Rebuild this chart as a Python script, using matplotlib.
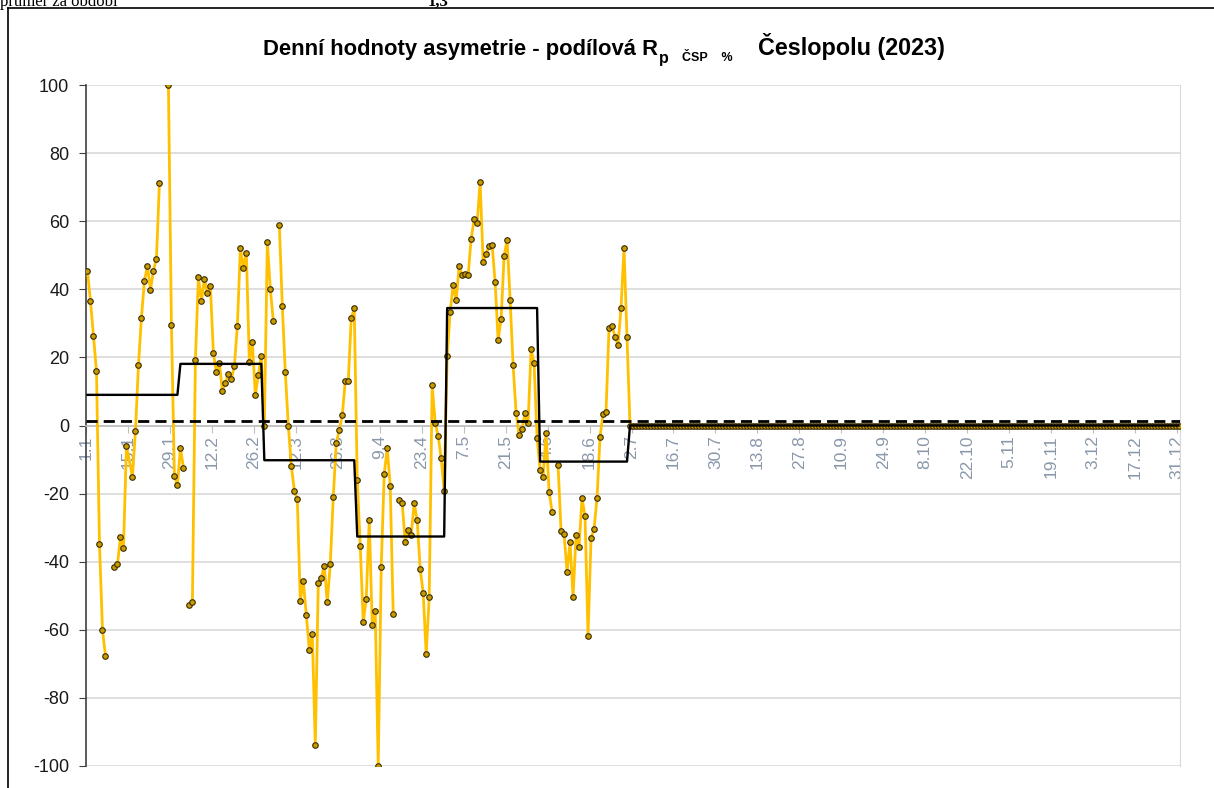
import numpy as np
import matplotlib
matplotlib.use("Agg")
import matplotlib.pyplot as plt

plt.rcParams["font.family"] = ["Liberation Sans", "DejaVu Sans"]
plt.rcParams["axes.unicode_minus"] = False

nan = np.nan
# daily values, Jan-Jun 2023 (nan = empty day, line broken; None = no point, line joined)
jan = [45.3, 36.5, 26.2, 15.9, -34.9, -60.0, -67.7, nan, nan, -41.6, -40.8, -32.7, -36.0, -5.9,
       None, -15.1, -1.5, 17.7, 31.7, 42.5, 46.9, 39.8, 45.4, 49.0, 71.2, nan, nan, 100.0, 29.6,
       -14.7, -17.6]
feb = [-6.6, -12.4, nan, -52.7, -51.9, 19.3, 43.6, 36.5, 43.1, 38.8, 40.9, 21.4, 15.6, 18.5,
       10.0, 12.6, 15.2, 13.7, 17.4, 29.2, 52.1, 46.2, 50.8, 18.6, 24.4, 9.0, 14.9, 20.4]
mar = [0.0, 53.8, 40.1, 30.6, nan, 59.0, 35.0, 15.6, 0.0, -11.8, -19.1, -21.6, -51.5, -45.7,
       -55.6, -65.9, -61.2, -93.9, -46.3, -44.8, -41.2, -51.9, -40.8, -21.0, -5.2, -1.4, 3.0,
       13.0, 13.0, 31.5, 34.4]
apr = [-15.9, -35.4, -57.8, -50.9, -27.9, -58.5, -54.5, -100.0, -41.6, -14.2, -6.7, -17.7,
       -55.5, nan, -22.0, -22.8, -34.3, -30.6, -32.1, -22.8, -27.9, -42.1, -49.2, -67.1, -50.5,
       11.8, 0.8, -3.1, -9.6, -19.1]
may = [20.4, 33.3, 41.3, 36.9, 46.9, 44.1, 44.5, 44.1, 54.9, 60.5, 59.4, 71.5, 48.0, 50.5,
       52.6, 53.1, 42.1, 25.2, 31.3, 49.8, 54.6, 37.0, 17.7, 3.7, -2.9, -1.0, 3.7, 0.8, 22.5,
       18.3, -3.6]
jun = [-13.0, -15.2, -2.2, -19.4, -25.3, nan, -11.7, -31.1, -31.9, -42.9, -34.3, -50.4, -32.3,
       -35.6, -21.3, -26.7, -61.8, -33.1, -30.5, -21.3, -3.3, 3.3, 4.1, 28.5, 29.2, 26.1, 23.7,
       34.4, 52.1, 25.9]
jul_dec = [0.0] * 184

month_avg = [9.0, 18.1, -10.2, -32.6, 34.5, -10.6, 0.0, 0.0, 0.0, 0.0, 0.0, 0.0]
month_len = [31, 28, 31, 30, 31, 30, 31, 31, 30, 31, 30, 31]
period_avg = 1.3

tick_labels = ["1.1", "15.1", "29.1", "12.2", "26.2", "12.3", "26.3", "9.4", "23.4", "7.5",
               "21.5", "4.6", "18.6", "2.7", "16.7", "30.7", "13.8", "27.8", "10.9", "24.9",
               "8.10", "22.10", "5.11", "19.11", "3.12", "17.12", "31.12"]

daily = jan + feb + mar + apr + may + jun + jul_dec
pts = [(d, v) for d, v in enumerate(daily) if v is not None]
xd = np.array([p[0] for p in pts])
yd = np.array([p[1] for p in pts], dtype=float)
days = np.arange(sum(month_len))
step = np.repeat(month_avg, month_len)

W, H = 1214, 788
fig = plt.figure(figsize=(W / 100, H / 100), dpi=100)
ax = fig.add_axes([86 / W, 1 - 766 / H, 1094 / W, 681 / H])

# spine position first: it resets the tick settings
ax.spines["bottom"].set_position(("data", 0))
ax.spines["bottom"].set_color("#bfbfbf")
ax.spines["bottom"].set_linewidth(1.2)
ax.spines["left"].set_color("#404040")
ax.spines["left"].set_linewidth(1.2)
ax.spines["top"].set_visible(False)
ax.spines["right"].set_color("#d9d9d9")

ax.plot(xd, yd, color="#FFC000", lw=2.0, marker="o", ms=4.0, mfc="#C89B00",
        mec="#3a2a00", mew=0.8, zorder=3)
ax.plot(days, step, color="black", lw=1.7, zorder=4)
ax.axhline(period_avg, color="black", lw=2.0, dashes=(4, 2.2), zorder=5)

ax.set_xlim(-0.5, len(days) - 0.5)
ax.set_ylim(-100, 100)
ax.set_yticks(np.arange(-100, 101, 20))
ax.yaxis.grid(True, color="#d9d9d9", lw=1.2)
ax.set_axisbelow(True)

ax.set_xticks(np.arange(0, len(days), 14) - 0.5)
ax.set_xticklabels(tick_labels, rotation=90, color="#8a98aa", fontsize=12.5)
ax.tick_params(axis="x", length=5, color="#bfbfbf", pad=2)
ax.tick_params(axis="y", length=5, color="#404040", labelsize=13, labelcolor="#1a1a1a", pad=7)

# title in pieces (subscript part smaller)
t1 = fig.text(263 / W, 1 - 60 / H, "Denní hodnoty asymetrie - podílová R", fontsize=15.8,
              weight="bold", ha="left", va="bottom")
t2 = ax.annotate("p", xy=(1, 0), xycoords=t1, xytext=(0.5, -4), textcoords="offset points",
                 fontsize=11.5, weight="bold", ha="left", va="bottom", annotation_clip=False)
t3 = ax.annotate("ČSP    %", xy=(1, 0), xycoords=t2, xytext=(10, 1), textcoords="offset points",
                 fontsize=9, weight="bold", ha="left", va="bottom", annotation_clip=False)
ax.annotate("Česlopolu (2023)", xy=(1, 0), xycoords=t3, xytext=(18, 3),
            textcoords="offset points", fontsize=16.8, weight="bold", ha="left", va="bottom",
            annotation_clip=False)

# cropped spreadsheet cell above the chart
fig.text(0.0, 1 - 2 / H, "průměr za období", family="Liberation Serif", fontsize=12,
         ha="left", va="center")
fig.text(428 / W, 1 - 2 / H, "1,3", family="Liberation Serif", fontsize=12, weight="bold",
         ha="left", va="center")
fig.add_artist(plt.Line2D([8 / W, 1], [1 - 8 / H, 1 - 8 / H], color="black", lw=1.2))
fig.add_artist(plt.Line2D([8 / W, 8 / W], [0, 1 - 8 / H], color="black", lw=1.2))

fig.savefig("out.png", dpi=100)
